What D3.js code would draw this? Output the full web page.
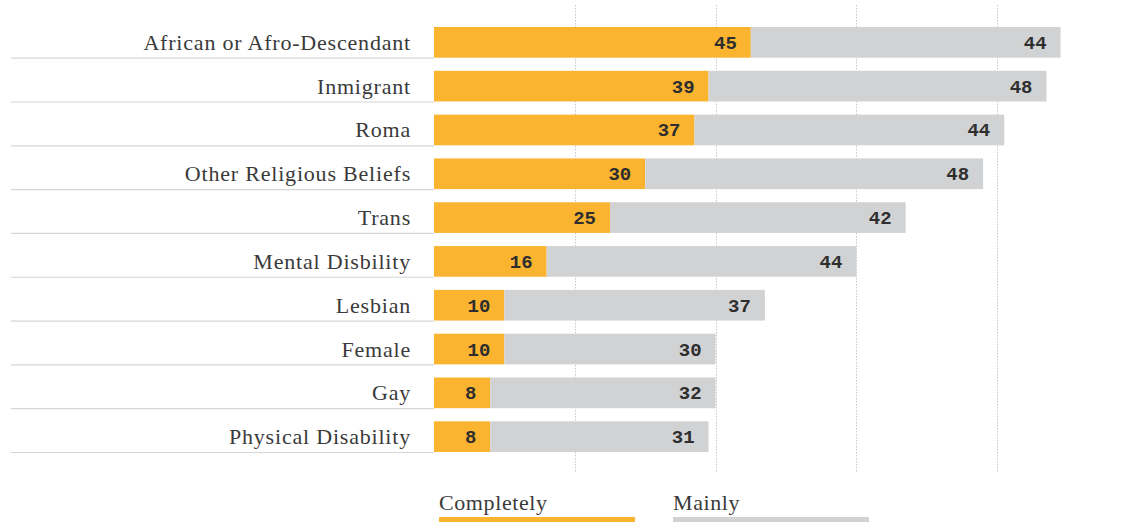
<!DOCTYPE html>
<html>
<head>
<meta charset="utf-8">
<script src="https://cdn.jsdelivr.net/npm/d3@7"></script>
<style>
  html, body { margin: 0; padding: 0; background: #fff; }
  svg { display: block; }
</style>
</head>
<body>
<svg id="chart" width="1126" height="522"></svg>
<script>
// Share of respondents by group, split into "Completely" and "Mainly"
const categories = [
  "African or Afro-Descendant",
  "Inmigrant",
  "Roma",
  "Other Religious Beliefs",
  "Trans",
  "Mental Disbility",
  "Lesbian",
  "Female",
  "Gay",
  "Physical Disability"
];
const completely = [45, 39, 37, 30, 25, 16, 10, 10, 8, 8];
const mainly     = [44, 48, 44, 48, 42, 44, 37, 30, 32, 31];
const seriesNames = ["Completely", "Mainly"];
const gridTicks = [20, 40, 60, 80];

const colors = { Completely: "#FBB430", Mainly: "#D1D2D4" };
const labelFont = "'Liberation Serif', 'DejaVu Serif', serif";
const numFont = "'Liberation Mono', 'DejaVu Sans Mono', monospace";

const svg = d3.select("#chart");

const x = d3.scaleLinear().domain([0, 100]).range([434, 1138]);
const y = d3.scaleBand().domain(categories).range([27, 452]).paddingInner(0.3).paddingOuter(0);

// Dotted vertical gridlines behind the bars
svg.append("g").selectAll("line").data(gridTicks).join("line")
  .attr("x1", d => Math.round(x(d)) + 0.5).attr("x2", d => Math.round(x(d)) + 0.5)
  .attr("y1", 5).attr("y2", 473)
  .attr("stroke", "#c8c8c8").attr("stroke-width", 1)
  .attr("stroke-dasharray", "1.5,1.5");

// Separator lines under category labels
svg.append("g").selectAll("line").data(categories).join("line")
  .attr("x1", 11).attr("x2", 434)
  .attr("y1", d => y(d) + y.bandwidth() + 0.5).attr("y2", d => y(d) + y.bandwidth() + 0.5)
  .attr("stroke", "#d6d6d6").attr("stroke-width", 1.2);

// Category labels
svg.append("g").selectAll("text").data(categories).join("text")
  .attr("x", 411).attr("y", d => y(d) + y.bandwidth() / 2 + 7.5)
  .attr("text-anchor", "end")
  .attr("font-family", labelFont).attr("font-size", 22)
  .attr("letter-spacing", 0.8)
  .attr("fill", "#3a3a3a")
  .text(d => d);

const rows = categories.map((c, i) => ({ cat: c, Completely: completely[i], Mainly: mainly[i] }));
const stacked = d3.stack().keys(seriesNames)(rows);

const layers = svg.append("g").selectAll("g").data(stacked).join("g")
  .attr("fill", d => colors[d.key]);

layers.selectAll("rect").data(d => d).join("rect")
  .attr("x", d => x(d[0]))
  .attr("width", d => x(d[1]) - x(d[0]))
  .attr("y", d => y(d.data.cat))
  .attr("height", y.bandwidth());

// Value labels, right-aligned inside each segment
svg.append("g").selectAll("g").data(stacked).join("g")
  .selectAll("text").data(d => d.map(v => ({ v, key: d.key }))).join("text")
  .attr("x", d => x(d.v[1]) - 14)
  .attr("y", d => y(d.v.data.cat) + y.bandwidth() / 2 + 6.5)
  .attr("text-anchor", "end")
  .attr("font-family", numFont).attr("font-size", 19).attr("font-weight", "bold")
  .attr("fill", "#2e2e2e")
  .text(d => d.v.data[d.key]);

// Legend
const legendX = { Completely: 439, Mainly: 673 };
const legend = svg.append("g").selectAll("g").data(seriesNames).join("g")
  .attr("transform", d => `translate(${legendX[d]},0)`);
legend.append("text")
  .attr("x", 0).attr("y", 510)
  .attr("font-family", labelFont).attr("font-size", 22)
  .attr("letter-spacing", 0.6)
  .attr("fill", "#3a3a3a")
  .text(d => d);
legend.append("rect")
  .attr("x", 0).attr("y", 517).attr("width", 196).attr("height", 6)
  .attr("fill", d => colors[d]);
</script>
</body>
</html>
